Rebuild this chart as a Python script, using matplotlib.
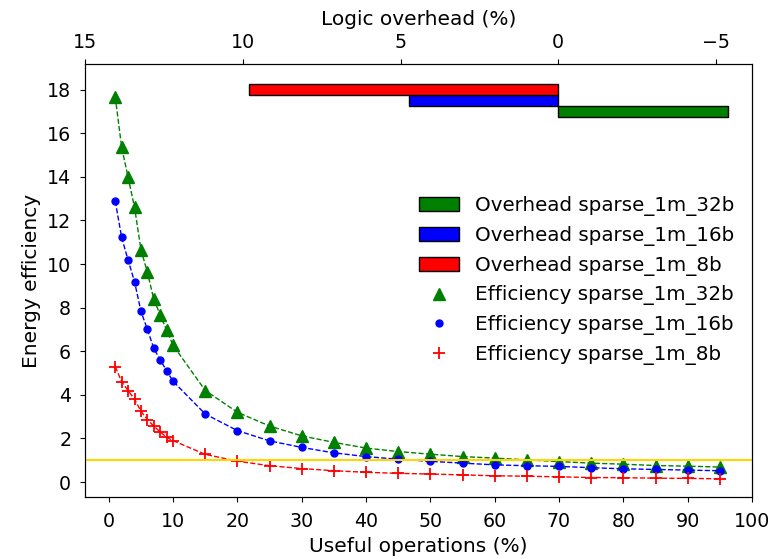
import matplotlib
matplotlib.use("Agg")
import matplotlib.pyplot as plt
from matplotlib.patches import Patch
from matplotlib.lines import Line2D

plt.rcParams['font.family'] = ['DejaVu Sans']
plt.rcParams['font.size'] = 14

useful_ops = [1, 2, 3, 4, 5, 6, 7, 8, 9, 10, 15, 20, 25, 30, 35, 40, 45, 50,
              55, 60, 65, 70, 75, 80, 85, 90, 95]
eff_32b = [17.67, 15.35, 13.98, 12.6, 10.66, 9.62, 8.38, 7.66, 6.96, 6.27,
           4.2, 3.2, 2.57, 2.12, 1.82, 1.56, 1.40, 1.28, 1.17, 1.1, 1.02,
           0.94, 0.87, 0.82, 0.76, 0.73, 0.69]
eff_16b = [12.89, 11.22, 10.18, 9.19, 7.83, 7.0, 6.13, 5.6, 5.1, 4.62,
           3.12, 2.36, 1.89, 1.59, 1.34, 1.17, 1.05, 0.95, 0.87, 0.79, 0.75,
           0.72, 0.66, 0.61, 0.58, 0.55, 0.52]
eff_8b = [5.3, 4.6, 4.2, 3.8, 3.25, 2.87, 2.56, 2.3, 2.05, 1.9,
          1.27, 0.96, 0.75, 0.62, 0.52, 0.45, 0.4, 0.37, 0.33, 0.29, 0.27,
          0.24, 0.21, 0.2, 0.18, 0.17, 0.15]

overhead_names = ["sparse_1m_32b", "sparse_1m_16b", "sparse_1m_8b"]
overhead_vals = [-5.38, 4.72, 9.8]
overhead_ypos = [17.0, 17.5, 18.0]
colors = ["green", "blue", "red"]

fig = plt.figure(figsize=(7.79, 5.59), dpi=100)
ax = fig.add_axes([85/779, 1 - 496.7/559, (752 - 85)/779, (496.7 - 64.3)/559])

series = [(eff_32b, "green", "^", 9, "Efficiency sparse_1m_32b"),
          (eff_16b, "blue", "o", 5, "Efficiency sparse_1m_16b"),
          (eff_8b, "red", "+", 9, "Efficiency sparse_1m_8b")]
eff_handles = []
for vals, c, m, ms, lab in series:
    ax.plot(useful_ops, vals, linestyle="--", color=c, linewidth=1)
    ax.plot(useful_ops, vals, linestyle="none", marker=m, color=c,
            markersize=ms, markeredgewidth=1.3 if m == "+" else 1)
    eff_handles.append(Line2D([], [], linestyle="none", marker=m, color=c,
                              markersize=ms,
                              markeredgewidth=1.3 if m == "+" else 1,
                              label=lab))

ax.axhline(1.0, color="gold", linewidth=1.5)

ax.set_xlim(-3.7, 100)
ax.set_ylim(-0.67, 19.16)
ax.set_xticks(range(0, 101, 10))
ax.set_yticks(range(0, 19, 2))
ax.tick_params(axis="x", labelsize=13.7, pad=7.8)
ax.tick_params(axis="y", labelsize=13.7, pad=6.4)
ax.set_xlabel("Useful operations (%)", fontsize=14.5, labelpad=4)
ax.set_ylabel("Energy efficiency", fontsize=14.5, labelpad=4)

ax2 = ax.twiny()
bar_handles = []
for v, yp, c, n in zip(overhead_vals, overhead_ypos, colors, overhead_names):
    ax2.barh(yp, v, height=0.5, left=0, color=c, edgecolor="black",
             linewidth=1)
    bar_handles.append(Patch(facecolor=c, edgecolor="black", linewidth=1,
                             label="Overhead " + n))
ax2.set_xlim(15, -6.14)
ax2.set_xticks([15, 10, 5, 0, -5])
ax2.tick_params(axis="x", labelsize=13.7, pad=5)
ax2.set_xlabel("Logic overhead (%)", fontsize=14.5, labelpad=6)

ax2.legend(handles=bar_handles + eff_handles, loc="center right",
           frameon=False, fontsize=14.3)

fig.savefig("out.png", dpi=100)
